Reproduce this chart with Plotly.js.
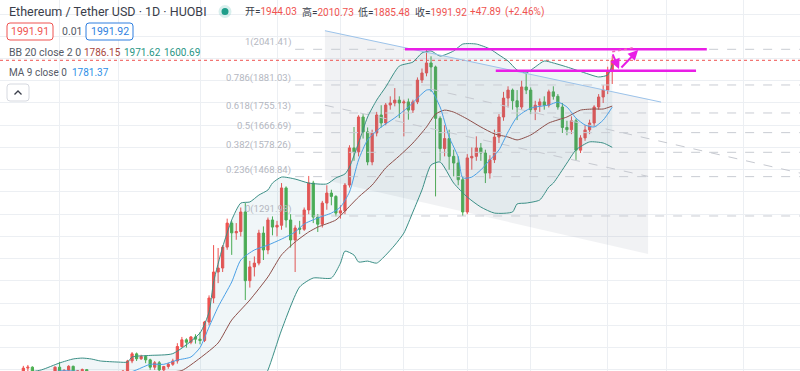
<!DOCTYPE html>
<html><head><meta charset="utf-8">
<script src="https://cdn.plot.ly/plotly-3.0.1.min.js"></script>
<style>html,body{margin:0;padding:0;background:#fff;overflow:hidden}#chart{width:800px;height:371px}</style>
</head><body><div id="chart"></div>
<script>
// ---------- price data (daily candles) ----------
const dates = ['2020-11-18','2020-11-19','2020-11-20','2020-11-21','2020-11-22','2020-11-23','2020-11-24','2020-11-25','2020-11-26','2020-11-27','2020-11-28','2020-11-29','2020-11-30',
'2020-12-01','2020-12-02','2020-12-03','2020-12-04','2020-12-05','2020-12-06','2020-12-07','2020-12-08','2020-12-09','2020-12-10','2020-12-11','2020-12-12','2020-12-13','2020-12-14','2020-12-15','2020-12-16','2020-12-17','2020-12-18','2020-12-19','2020-12-20','2020-12-21','2020-12-22','2020-12-23','2020-12-24','2020-12-25','2020-12-26','2020-12-27','2020-12-28','2020-12-29','2020-12-30','2020-12-31',
'2021-01-01','2021-01-02','2021-01-03','2021-01-04','2021-01-05','2021-01-06','2021-01-07','2021-01-08','2021-01-09','2021-01-10','2021-01-11','2021-01-12','2021-01-13','2021-01-14','2021-01-15','2021-01-16','2021-01-17','2021-01-18','2021-01-19','2021-01-20','2021-01-21','2021-01-22','2021-01-23','2021-01-24','2021-01-25','2021-01-26','2021-01-27','2021-01-28','2021-01-29','2021-01-30','2021-01-31',
'2021-02-01','2021-02-02','2021-02-03','2021-02-04','2021-02-05','2021-02-06','2021-02-07','2021-02-08','2021-02-09','2021-02-10','2021-02-11','2021-02-12','2021-02-13','2021-02-14','2021-02-15','2021-02-16','2021-02-17','2021-02-18','2021-02-19','2021-02-20','2021-02-21','2021-02-22','2021-02-23','2021-02-24','2021-02-25','2021-02-26','2021-02-27','2021-02-28',
'2021-03-01','2021-03-02','2021-03-03','2021-03-04','2021-03-05','2021-03-06','2021-03-07','2021-03-08','2021-03-09','2021-03-10','2021-03-11','2021-03-12','2021-03-13','2021-03-14','2021-03-15','2021-03-16','2021-03-17','2021-03-18','2021-03-19','2021-03-20','2021-03-21','2021-03-22','2021-03-23','2021-03-24','2021-03-25','2021-03-26','2021-03-27','2021-03-28','2021-03-29','2021-03-30','2021-03-31',
'2021-04-01','2021-04-02'];
const open = [480,479,471,509,549,559,608,612,580,520,517,538,575,
612,588,598,616,569,596,601,591,574,573,560,545,568,590,586,595,640,672,650,660,645,612,632,600,615,625,640,705,735,724,748,
738,732,815,923,1040,1058,1152,1260,1216,1222,1310,1001,1063,1080,1215,1139,1274,1242,1250,1418,1274,1184,1238,1232,1319,1440,1287,1255,1350,1395,1380,
1305,1315,1431,1598,1580,1737,1670,1535,1665,1746,1710,1791,1800,1813,1800,1805,1768,1805,1903,1935,1980,1962,1731,1595,1640,1560,1530,1455,
1310,1553,1560,1598,1575,1485,1545,1647,1737,1822,1858,1810,1782,1872,1858,1770,1790,1805,1790,1850,1830,1782,1690,1680,1720,1588,1643,1679,1710,1782,1827,
1858,1944.03];
const high = [500,483,511,552,567,618,622,616,585,535,545,579,616,
636,603,621,619,598,606,604,594,577,575,561,571,595,592,598,645,680,678,668,665,650,640,640,618,632,650,720,748,742,752,760,
770,820,935,1161,1148,1161,1280,1270,1260,1330,1350,1090,1110,1230,1245,1285,1290,1270,1440,1425,1300,1250,1270,1330,1472,1450,1300,1360,1430,1410,1385,
1340,1440,1610,1692,1745,1750,1690,1680,1760,1790,1800,1830,1867,1830,1815,1820,1815,1915,1955,2041.41,2010,1968,1740,1700,1680,1590,1560,1470,
1570,1600,1650,1620,1590,1565,1680,1750,1850,1875,1865,1858,1900,1935,1870,1810,1820,1830,1860,1875,1840,1800,1720,1740,1730,1655,1700,1725,1790,1840,1880,
1963,2010.73];
const low = [462,461,469,505,526,555,581,565,480,500,506,536,571,
560,574,590,564,562,585,584,557,530,550,532,541,562,577,579,588,630,640,645,630,600,600,570,590,605,618,628,700,700,715,718,
715,725,800,900,990,1040,1140,1117,1185,1200,914,970,1020,1070,1094,1120,1205,1200,1230,1240,1150,1040,1210,1225,1300,1260,1220,1240,1320,1340,1290,
1280,1300,1420,1540,1560,1640,1520,1520,1650,1690,1700,1770,1785,1732,1650,1725,1755,1795,1890,1920,1850,1380,1540,1560,1500,1470,1430,1291.98,
1300,1500,1540,1540,1440,1460,1530,1620,1720,1780,1770,1723,1770,1840,1750,1723,1760,1770,1780,1815,1770,1665,1655,1660,1544,1575,1630,1660,1695,1770,1800,
1840,1885.48];
const close = [479,471,509,549,559,608,612,580,520,517,538,575,612,
588,598,616,569,596,601,591,574,573,560,545,568,590,586,595,640,672,650,660,645,612,632,600,615,625,640,705,735,724,748,738,
732,815,923,1040,1058,1152,1260,1216,1222,1310,1001,1063,1080,1215,1139,1274,1242,1250,1418,1274,1184,1238,1232,1319,1440,1287,1255,1350,1395,1380,1305,
1315,1431,1598,1580,1737,1670,1535,1665,1746,1710,1791,1800,1813,1800,1805,1768,1805,1903,1935,1980,1962,1731,1595,1640,1560,1530,1455,1310,
1553,1560,1598,1575,1485,1545,1647,1737,1822,1858,1810,1782,1872,1858,1770,1790,1805,1790,1850,1830,1782,1690,1680,1720,1588,1643,1679,1710,1782,1827,1858,
1944.03,1991.92];

// ---------- indicators ----------
const bbUpperDates = ['2020-11-18','2020-11-23','2020-11-27','2020-12-01','2020-12-04','2020-12-06','2020-12-08','2020-12-10','2020-12-14','2020-12-16','2020-12-17','2020-12-21','2020-12-26','2021-01-01','2021-01-03','2021-01-04','2021-01-06','2021-01-08','2021-01-10','2021-01-12','2021-01-14','2021-01-16','2021-01-17','2021-01-19','2021-01-22','2021-01-25','2021-01-29','2021-01-31','2021-02-02','2021-02-03','2021-02-05','2021-02-07','2021-02-09','2021-02-11','2021-02-14','2021-02-17','2021-02-19','2021-02-21','2021-02-23','2021-02-26','2021-02-28','2021-03-03','2021-03-06','2021-03-08','2021-03-10','2021-03-12','2021-03-14','2021-03-16','2021-03-18','2021-03-20','2021-03-23','2021-03-27','2021-03-30','2021-04-01','2021-04-02'];
const bbUpper = [560,585,600,631,649,653,649,640,635,635,658,665,673,766,860,995,1152,1274,1350,1355,1386,1409,1440,1467,1458,1440,1436,1463,1481,1512,1620,1737,1813,1872,1966,1984,2025,2034,2011,2034,2065,2065,2043,2016,1989,1948,1935,1962,1989,1980,1962,1935,1917,1926,1971.62];
const bbLowerDates = ['2020-11-18','2020-11-25','2020-12-01','2020-12-08','2020-12-15','2020-12-22','2020-12-28','2021-01-01','2021-01-04','2021-01-08','2021-01-12','2021-01-14','2021-01-16','2021-01-19','2021-01-23','2021-01-26','2021-01-30','2021-02-01','2021-02-02','2021-02-04','2021-02-05','2021-02-07','2021-02-09','2021-02-11','2021-02-13','2021-02-15','2021-02-17','2021-02-19','2021-02-21','2021-02-23','2021-02-26','2021-03-01','2021-03-04','2021-03-07','2021-03-11','2021-03-12','2021-03-14','2021-03-17','2021-03-19','2021-03-20','2021-03-23','2021-03-25','2021-03-28','2021-03-31','2021-04-02'];
const bbLower = [400,420,440,520,545,545,530,520,480,400,430,520,599,779,973,1013,1013,1080,1134,1116,1085,1089,1080,1116,1161,1215,1310,1409,1521,1535,1440,1377,1332,1305,1310,1346,1350,1364,1422,1440,1530,1589,1625,1620,1600.69];
const bbBasisDates = ['2020-11-18','2020-12-01','2020-12-15','2020-12-25','2020-12-28','2021-01-01','2021-01-05','2021-01-08','2021-01-12','2021-01-16','2021-01-19','2021-01-22','2021-01-25','2021-01-27','2021-01-31','2021-02-02','2021-02-05','2021-02-08','2021-02-11','2021-02-14','2021-02-17','2021-02-20','2021-02-22','2021-02-24','2021-02-26','2021-03-01','2021-03-04','2021-03-07','2021-03-10','2021-03-12','2021-03-15','2021-03-19','2021-03-23','2021-03-26','2021-03-29','2021-03-31','2021-04-02'];
const bbBasis = [470,540,580,590,597,653,721,824,914,1018,1117,1175,1220,1242,1274,1314,1377,1431,1508,1562,1620,1692,1750,1768,1759,1728,1692,1661,1647,1634,1656,1710,1737,1768,1773,1773,1786.15];
const ma9Dates = ['2020-11-18','2020-12-01','2020-12-15','2020-12-18','2020-12-21','2020-12-24','2020-12-27','2020-12-30','2021-01-01','2021-01-03','2021-01-05','2021-01-08','2021-01-10','2021-01-13','2021-01-16','2021-01-19','2021-01-22','2021-01-24','2021-01-27','2021-01-30','2021-02-01','2021-02-03','2021-02-05','2021-02-07','2021-02-10','2021-02-13','2021-02-16','2021-02-20','2021-02-21','2021-02-23','2021-02-25','2021-02-27','2021-02-28','2021-03-02','2021-03-04','2021-03-06','2021-03-08','2021-03-10','2021-03-12','2021-03-15','2021-03-19','2021-03-21','2021-03-23','2021-03-25','2021-03-27','2021-03-29','2021-03-31','2021-04-02'];
const ma9 = [520,595,580,600,625,625,644,658,700,793,883,995,1094,1139,1161,1188,1220,1256,1283,1305,1332,1400,1544,1634,1692,1733,1782,1858,1858,1782,1647,1557,1463,1467,1499,1544,1589,1670,1737,1777,1791,1804,1782,1732,1701,1692,1723,1781.37];

// ---------- drawings (anchored in time / price) ----------
const fibRatios = ['1','0.786','0.618','0.5','0.382','0.236','0'];
const fibPrices = [2041.41,1881.03,1755.13,1666.69,1578.26,1468.84,1291.98];
const fibStart = '2021-01-22';
const channelDates = ['2021-01-28 14:00','2021-04-09 22:00','2021-04-09 22:00','2021-01-28 14:00'];
const channelPrices = [2125,1818,1121,1454];
const channelMidDates = ['2021-01-28 14:00','2021-04-09 22:00'];
const channelMidPrices = [1790,1470];
const trendDates = ['2021-01-28 14:00','2021-04-12 19:00'];
const trendPrices = [2125,1804];
const dashTrendDates = ['2021-02-20 19:00','2021-05-13 10:48'];
const dashTrendPrices = [1863,1485];
const resistDates = ['2021-02-15 06:00','2021-04-22 21:00'];
const resistPrices = [2041.41,2041.41];
const supportDates = ['2021-03-07 07:00','2021-04-20 12:00'];
const supportPrices = [1945,1945];
const projDates = ['2021-04-02 00:00','2021-04-06 12:00'];
const projPrices = [2030,2048];
const lastPrice = 1991.92;

const RED='#ef5350', GREEN='#4caf50', MAG='#e91ee6';
const xRange = ['2020-11-17 20:24','2021-05-13 10:48'];
const yRange = [594.9, 2263.1];
const FONT = 'Roboto, "Noto Sans CJK SC", sans-serif';

const traces = [];
const L = (x,y,line,extra)=>Object.assign({type:'scatter',mode:'lines',x:x,y:y,line:line,hoverinfo:'skip',showlegend:false},extra||{});
// BB fill
traces.push(L(bbLowerDates,bbLower,{width:0,color:'rgba(0,0,0,0)'}));
traces.push(L(bbUpperDates,bbUpper,{width:0,color:'rgba(0,0,0,0)'},{fill:'tonexty',fillcolor:'rgba(40,130,150,0.07)'}));
// channel
traces.push(L(channelDates,channelPrices,{width:0},{fill:'toself',fillcolor:'rgba(120,128,150,0.10)'}));
traces.push(L(channelMidDates,channelMidPrices,{color:'#c6c9d0',width:1,dash:'dash'}));
traces.push(L(dashTrendDates,dashTrendPrices,{color:'#c6c9d0',width:1,dash:'dash'}));
// fib lines
fibPrices.forEach(p=>traces.push(L([fibStart,xRange[1]],[p,p],{color:'#c9ccd3',width:1,dash:'dash'})));
// last price dotted
traces.push(L(xRange,[lastPrice,lastPrice],{color:RED,width:1,dash:'dot'}));
// candles
traces.push({type:'candlestick',x:dates,open:open,high:high,low:low,close:close,
  increasing:{line:{color:RED,width:1},fillcolor:RED},decreasing:{line:{color:GREEN,width:1},fillcolor:GREEN},
  whiskerwidth:0,hoverinfo:'skip',showlegend:false});
// indicator lines
traces.push(L(bbUpperDates,bbUpper,{color:'#3b8f86',width:1,shape:'spline',smoothing:0.6}));
traces.push(L(bbLowerDates,bbLower,{color:'#3b8f86',width:1,shape:'spline',smoothing:0.6}));
traces.push(L(bbBasisDates,bbBasis,{color:'#8d4f4a',width:1,shape:'spline',smoothing:0.6}));
traces.push(L(ma9Dates,ma9,{color:'#4aa0e6',width:1,shape:'spline',smoothing:0.6}));
// trend line + magenta lines
traces.push(L(trendDates,trendPrices,{color:'#9cc3ea',width:1}));
traces.push(L(resistDates,resistPrices,{color:MAG,width:2.5}));
traces.push(L(supportDates,supportPrices,{color:MAG,width:2.5}));
traces.push(L(projDates,projPrices,{color:'#f06ab8',width:1.5,dash:'dot'}));

const P = (px)=>px/800, Q=(py)=>1-py/371;
const ann = [];
const txt = (px,py,text,size,color,anchor)=>ann.push({xref:'paper',yref:'paper',x:P(px),y:Q(py),xanchor:anchor||'left',yanchor:'middle',showarrow:false,text:text,font:{family:FONT,size:size,color:color}});
// fib labels
fibPrices.forEach((p,i)=>ann.push({xref:'x',yref:'y',x:'2021-01-21 12:00',y:p,text:fibRatios[i]+'('+p.toFixed(2)+')',showarrow:false,xanchor:'right',yanchor:'bottom',yshift:-1,font:{family:FONT,size:9.5,color:'#b4b7bf'}}));
// header
txt(7,11.5,'Ethereum / Tether USD · 1D · HUOBI',12.5,'#3a3e4a');
const rv = v=>'<span style="color:#ef5350">'+v+'</span>';
txt(243,11.5,'开='+rv('1944.03'),10,'#3a3e4a');
txt(300,11.5,'高='+rv('2010.73'),10,'#3a3e4a');
txt(356,11.5,'低='+rv('1885.48'),10,'#3a3e4a');
txt(413,11.5,'收='+rv('1991.92'),10,'#3a3e4a');
txt(468,11.5,'+47.89',10,'#ef5350');
txt(503,11.5,'(+2.46%)',10,'#ef5350');
txt(30,31.5,'1991.91',10.5,'#ef5350','center');
txt(60,31.5,'0.01',10.5,'#555a66');
txt(109.5,31.5,'1991.92',10.5,'#2e7fe0','center');
txt(7,53,'BB 20 close 2 0',10.5,'#555a66');
txt(82,53,'1786.15',10,'#a8463c');
txt(122,53,'1971.62',10,'#2a9686');
txt(162,53,'1600.69',10,'#2a9686');
txt(7,72,'MA 9 close 0',10,'#555a66');
txt(70,72,'1781.37',10,'#2e8fe6');
// arrows
ann.push({xref:'x',yref:'y',axref:'x',ayref:'y',x:'2021-04-03 12:00',y:1953,ax:'2021-04-01 23:00',ay:2025,showarrow:true,arrowhead:2,arrowsize:1,arrowwidth:2,arrowcolor:MAG,text:''});
ann.push({xref:'x',yref:'y',axref:'x',ayref:'y',x:'2021-04-07 17:00',y:2038,ax:'2021-04-03 17:00',ay:1953,showarrow:true,arrowhead:2,arrowsize:1,arrowwidth:2,arrowcolor:MAG,text:''});

const rr = (x0,y0,x1,y1,r)=>'M '+P(x0+r)+','+Q(y0)+' L '+P(x1-r)+','+Q(y0)+' Q '+P(x1)+','+Q(y0)+' '+P(x1)+','+Q(y0+r)+' L '+P(x1)+','+Q(y1-r)+' Q '+P(x1)+','+Q(y1)+' '+P(x1-r)+','+Q(y1)+' L '+P(x0+r)+','+Q(y1)+' Q '+P(x0)+','+Q(y1)+' '+P(x0)+','+Q(y1-r)+' L '+P(x0)+','+Q(y0+r)+' Q '+P(x0)+','+Q(y0)+' '+P(x0+r)+','+Q(y0)+' Z';
const shapes = [
  {type:'circle',xref:'paper',yref:'paper',x0:P(218.5),x1:P(231.5),y0:Q(18),y1:Q(5),fillcolor:'rgba(38,166,154,0.18)',line:{width:0}},
  {type:'circle',xref:'paper',yref:'paper',x0:P(221.5),x1:P(228.5),y0:Q(15),y1:Q(8),fillcolor:'#1e9e8a',line:{width:0}},
  {type:'path',xref:'paper',yref:'paper',path:rr(7,23,53,40,3),fillcolor:'#fff',line:{color:'#ef5350',width:1}},
  {type:'path',xref:'paper',yref:'paper',path:rr(86,23,133,40,3),fillcolor:'#fff',line:{color:'#2e7fe0',width:1}},
  {type:'path',xref:'paper',yref:'paper',path:rr(7,84,29,101,3),fillcolor:'#fff',line:{color:'#d6d9e0',width:1}},
  {type:'path',xref:'paper',yref:'paper',path:'M '+P(14.5)+','+Q(94.5)+' L '+P(18)+','+Q(91)+' L '+P(21.5)+','+Q(94.5),line:{color:'#3a3e4a',width:1.3}}
];

const layout = {
  width:800,height:371,margin:{l:0,r:0,t:0,b:0},paper_bgcolor:'#fff',plot_bgcolor:'#fff',showlegend:false,
  xaxis:{type:'date',range:xRange,rangeslider:{visible:false},showticklabels:false,ticks:'',zeroline:false,
    tickvals:['2020-12-01','2020-12-14','2021-01-01','2021-01-18','2021-02-01','2021-02-15','2021-03-01','2021-03-15','2021-04-01','2021-04-14','2021-05-01'],
    showgrid:true,gridcolor:'#eceff3',gridwidth:1,fixedrange:true},
  yaxis:{range:yRange,dtick:100,tick0:0,showticklabels:false,ticks:'',zeroline:false,showgrid:true,gridcolor:'#eceff3',gridwidth:1,fixedrange:true},
  annotations:ann,shapes:shapes,hovermode:false
};
Plotly.newPlot('chart',traces,layout,{staticPlot:true,displayModeBar:false});
</script></body></html>
